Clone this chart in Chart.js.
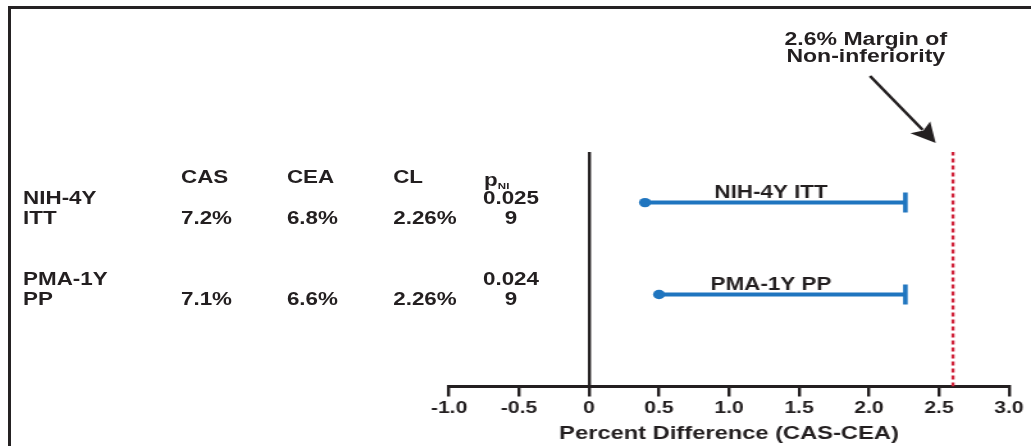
<!DOCTYPE html>
<html>
<head>
<meta charset="utf-8">
<script src="https://cdn.jsdelivr.net/npm/chart.js@4.4.1/dist/chart.umd.min.js"></script>
<style>
html, body { margin: 0; padding: 0; background: #fff; overflow: hidden; }
#frame { position: absolute; left: 8px; top: 6px; width: 1100px; height: 500px;
  border-top: 3px solid #252223; border-left: 3px solid #252223; }
/* the source picture is stretched sideways, so the whole drawing is too */
#wrap { position: absolute; left: 0; top: 0; width: 805px; height: 446px;
  transform-origin: 0 0; }
#chartBox { position: absolute; left: 0; top: 0; width: 805px; height: 446px; }
.txt { position: absolute; font-family: "Liberation Sans", Arial, Helvetica, sans-serif;
  font-weight: bold; font-size: 17.5px; line-height: 20px; color: #231f20; white-space: nowrap; }
.pcol { width: 80px; text-align: center; }
.note { font-size: 18px; line-height: 17px; text-align: center; width: 200px; }
sub { font-size: 9px; line-height: 0; vertical-align: -3px; }
</style>
</head>
<body>
<div id="frame"></div>
<div id="wrap">
  <div id="chartBox"><canvas id="niChart"></canvas></div>
</div>
<script>
// data
const columnHeads = ["CAS", "CEA", "CL"];
const rowNames = [["NIH-4Y", "ITT"], ["PMA-1Y", "PP"]];
const casRates = ["7.2%", "7.1%"];
const ceaRates = ["6.8%", "6.6%"];
const clValues = ["2.26%", "2.26%"];
const pValues = ["0.0259", "0.0249"];
const lineLabels = ["NIH-4Y ITT", "PMA-1Y PP"];
const ciLower = [0.4, 0.5];
const ciUpper = [2.26, 2.26];
const rowY = [2, 1];
const marginValue = 2.6;
const xTicks = [-1, -0.5, 0, 0.5, 1, 1.5, 2, 2.5, 3];

const STRETCH = 1031 / 805;
const wrap = document.getElementById("wrap");
wrap.style.transform = "scaleX(" + STRETCH + ")";

const ink = "#231f20";
const blue = "#1f75bf";
const red = "#d0223a";
const font = '"Liberation Sans", Arial, Helvetica, sans-serif';

// table on the left
function addText(html, left, top, cls) {
  const d = document.createElement("div");
  d.className = "txt" + (cls ? " " + cls : "");
  d.style.left = left + "px";
  d.style.top = top + "px";
  d.innerHTML = html;
  wrap.appendChild(d);
}
const colLeft = [141.3, 224, 307];
const pLeft = 359;
const rowTop = [187.5, 268.5];
columnHeads.forEach((h, i) => addText(h, colLeft[i], 166.5));
addText("p<sub>NI</sub>", 378, 170);
rowNames.forEach((name, r) => {
  addText(name.join("<br>"), 18, rowTop[r]);
  addText(casRates[r], colLeft[0], rowTop[r] + 20);
  addText(ceaRates[r], colLeft[1], rowTop[r] + 20);
  addText(clValues[r], colLeft[2], rowTop[r] + 20);
  addText(pValues[r].slice(0, 5) + "<br>" + pValues[r].slice(5), pLeft, rowTop[r], "pcol");
});
addText(marginValue.toFixed(1) + "% Margin of<br>Non-inferiority", 576, 31.2, "note");

const datasets = ciLower.map((lo, i) => ({
  data: [{ x: lo, y: rowY[i] }, { x: ciUpper[i], y: rowY[i] }],
  borderColor: blue,
  borderWidth: 4,
  pointStyle: ["circle", "line"],
  rotation: [0, 90],
  pointRadius: [4.7, 10],
  pointBorderWidth: [0, 3.6],
  pointBackgroundColor: blue,
  pointBorderColor: blue
}));
datasets.push({
  data: [{ x: marginValue, y: 0 }, { x: marginValue, y: 2.55 }],
  borderColor: red,
  borderWidth: 2.4,
  borderDash: [4, 3],
  pointRadius: 0
});

const labelPlugin = {
  id: "labels",
  afterDatasetsDraw(chart) {
    const { ctx, chartArea } = chart;
    const x = chart.scales.x, y = chart.scales.y;
    ctx.save();
    ctx.fillStyle = ink;
    ctx.font = "bold 17.5px " + font;
    ctx.textAlign = "center";
    lineLabels.forEach((t, i) => {
      ctx.fillText(t, x.getPixelForValue(1.3), y.getPixelForValue(rowY[i]) - 5);
    });
    // arrow pointing at the margin line
    const tipX = x.getPixelForValue(marginValue) - 13.5;
    const tipY = chartArea.top - 9;
    const tailX = tipX - 51.3, tailY = tipY - 67;
    const len = Math.hypot(tipX - tailX, tipY - tailY);
    const dx = (tipX - tailX) / len, dy = (tipY - tailY) / len;
    const bx = tipX - dx * 19.8, by = tipY - dy * 19.8;
    ctx.strokeStyle = ink;
    ctx.lineWidth = 2.5;
    ctx.beginPath();
    ctx.moveTo(tailX, tailY);
    ctx.lineTo(bx + dx * 3, by + dy * 3);
    ctx.stroke();
    ctx.beginPath();
    ctx.moveTo(tipX, tipY);
    ctx.lineTo(bx - dy * 9.7, by + dx * 9.7);
    ctx.lineTo(bx + dx * 4, by + dy * 4);
    ctx.lineTo(bx + dy * 9.7, by - dx * 9.7);
    ctx.closePath();
    ctx.fill();
    ctx.restore();
  }
};

new Chart(document.getElementById("niChart"), {
  type: "line",
  data: { datasets },
  plugins: [labelPlugin],
  options: {
    responsive: true,
    maintainAspectRatio: false,
    animation: false,
    events: [],
    layout: { padding: { left: 350.6, right: 17.2, top: 152, bottom: 0.5 } },
    plugins: { legend: { display: false }, tooltip: { enabled: false } },
    scales: {
      x: {
        type: "linear",
        min: -1,
        max: 3,
        afterBuildTicks: s => { s.ticks = xTicks.map(v => ({ value: v })); },
        grid: {
          color: c => (c.tick && c.tick.value === 0 ? ink : "rgba(0,0,0,0)"),
          lineWidth: 2.4,
          tickColor: ink,
          tickWidth: 2.4,
          tickLength: 10
        },
        border: { display: true, color: ink, width: 3 },
        ticks: {
          color: ink,
          padding: 2,
          font: { family: font, size: 16.5, weight: "bold" },
          callback: v => (v === 0 ? "0" : v.toFixed(1))
        },
        title: {
          display: true,
          text: "Percent Difference (CAS-CEA)",
          color: ink,
          padding: { top: 3, bottom: 0 },
          font: { family: font, size: 18.5, weight: "bold" }
        }
      },
      y: { type: "linear", display: false, min: 0, max: 2.55 }
    }
  }
});
</script>
</body>
</html>
